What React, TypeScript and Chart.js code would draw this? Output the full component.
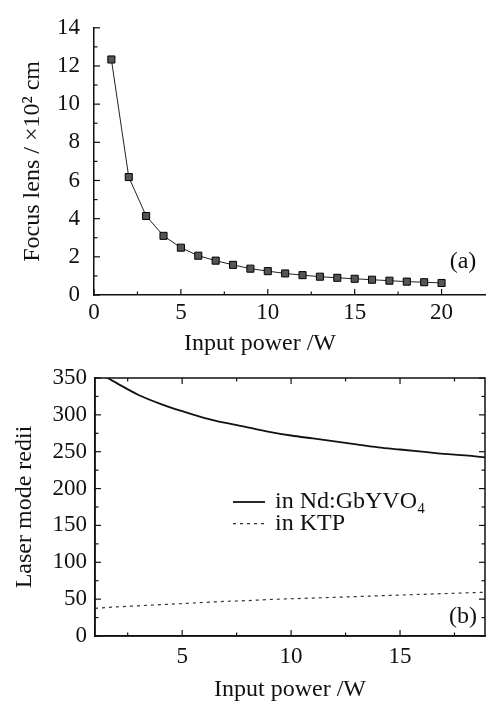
import React, { useEffect, useRef } from "react";
import { Chart, registerables } from "chart.js";

Chart.register(...registerables);

const SERIF = "'Liberation Serif', 'Times New Roman', serif";
const INK = "#111";

// ---- (a) Focus lens vs input power ----
const FOCUS_POWER = [1, 2, 3, 4, 5, 6, 7, 8, 9, 10, 11, 12, 13, 14, 15, 16, 17, 18, 19, 20];
const FOCUS_LENS = [12.34, 6.18, 4.14, 3.1, 2.48, 2.06, 1.8, 1.58, 1.38, 1.25, 1.13, 1.04, 0.96, 0.9, 0.85, 0.8, 0.75, 0.7, 0.67, 0.63];
const FOCUS_X_TICKS = [0, 5, 10, 15, 20];
const FOCUS_X_MINOR = [2.5, 7.5, 12.5, 17.5];
const FOCUS_Y_TICKS = [0, 2, 4, 6, 8, 10, 12, 14];
const FOCUS_Y_MINOR = [1, 3, 5, 7, 9, 11, 13];

// ---- (b) Laser mode radii vs input power ----
const MODE_POWER = [1, 2, 3, 4, 5, 6, 7, 8, 9, 10, 11, 12, 13, 14, 15, 16, 17, 18, 19];
const ND_RADII = [360, 343, 327, 315, 305, 296, 289, 283, 277, 272, 268, 264, 260, 256, 253, 250, 247, 245, 242];
const KTP_RADII = [37.5, 39.5, 41, 42.5, 44, 45.5, 47, 48, 49.5, 50.5, 51.5, 52.5, 53.5, 54.5, 55.5, 56.5, 57.5, 58.5, 59.5];
const MODE_X_TICKS = [5, 10, 15];
const MODE_X_MINOR = [2.5, 7.5, 12.5, 17.5];
const MODE_Y_TICKS = [0, 50, 100, 150, 200, 250, 300, 350];
const MODE_Y_MINOR = [25, 75, 125, 175, 225, 275, 325];
const SERIES_LABELS = ["in Nd:GbYVO\u2084", "in KTP"];

const inwardTicks = {
  id: "inwardTicks",
  afterDraw(chart: any, _args: any, opts: any) {
    const { ctx, chartArea: a, scales } = chart;
    const xs = scales.x;
    const ys = scales.y;
    const seg = (x1: number, y1: number, x2: number, y2: number) => {
      ctx.beginPath();
      ctx.moveTo(x1, y1);
      ctx.lineTo(x2, y2);
      ctx.stroke();
    };
    ctx.save();
    ctx.strokeStyle = INK;
    if (opts.frame) {
      ctx.lineWidth = 1.5;
      ctx.strokeRect(a.left, a.top, a.right - a.left, a.bottom - a.top);
    }
    ctx.lineWidth = 1.2;
    const groups: [number[], number, number[], number][] = [
      [opts.xMajor, 6, opts.yMajor, 6],
      [opts.xMinor, 3.5, opts.yMinor, 3.5],
    ];
    for (const [xv, xl, yv, yl] of groups) {
      for (const v of xv) {
        const px = xs.getPixelForValue(v);
        seg(px, a.bottom, px, a.bottom - xl);
        if (opts.frame) seg(px, a.top, px, a.top + xl);
      }
      for (const v of yv) {
        const py = ys.getPixelForValue(v);
        seg(a.left, py, a.left + yl, py);
        if (opts.frame) seg(a.right, py, a.right - yl, py);
      }
    }
    ctx.restore();
  },
};

const notes = {
  id: "notes",
  afterDraw(chart: any, _args: any, opts: any) {
    const { ctx } = chart;
    ctx.save();
    ctx.fillStyle = INK;
    ctx.font = `24px ${SERIF}`;
    ctx.textBaseline = "middle";
    for (const t of opts.texts || []) {
      ctx.textAlign = t.align || "center";
      ctx.fillText(t.text, t.x, t.y);
    }
    if (opts.legend) {
      const { x, y, gap, len } = opts.legend;
      chart.data.datasets.forEach((ds: any, i: number) => {
        const yy = y + i * gap;
        ctx.strokeStyle = ds.borderColor;
        ctx.lineWidth = ds.borderWidth;
        ctx.setLineDash(ds.borderDash || []);
        ctx.beginPath();
        ctx.moveTo(x, yy);
        ctx.lineTo(x + len, yy);
        ctx.stroke();
        ctx.setLineDash([]);
        ctx.textAlign = "left";
        ctx.fillText(ds.label, x + len + 10, yy);
      });
    }
    ctx.restore();
  },
};

function tickSetter(values: number[]) {
  return (scale: any) => {
    scale.ticks = values.map((v) => ({ value: v }));
  };
}

function axisBase(extra: any) {
  return {
    type: "linear",
    grid: { display: false, drawTicks: false },
    border: { display: true, color: INK, width: 1.5 },
    ...extra,
  };
}

export default function App() {
  const topRef = useRef<HTMLCanvasElement>(null);
  const botRef = useRef<HTMLCanvasElement>(null);

  useEffect(() => {
    const tickFont = { family: SERIF, size: 23 };
    const titleFont = { family: SERIF, size: 24 };

    const top = new Chart(topRef.current as HTMLCanvasElement, {
      type: "line",
      data: {
        datasets: [
          {
            label: "Focus lens",
            data: FOCUS_POWER.map((p, i) => ({ x: p, y: FOCUS_LENS[i] })),
            borderColor: "#222",
            borderWidth: 1,
            pointStyle: "rect",
            pointRadius: 5,
            pointBackgroundColor: "#555",
            pointBorderColor: "#000",
            pointBorderWidth: 1,
            tension: 0,
          },
        ],
      },
      options: {
        responsive: false,
        animation: false,
        events: [],
        layout: { padding: { top: 17, right: 4, left: 0, bottom: 0 } },
        plugins: {
          legend: { display: false },
          tooltip: { enabled: false },
          inwardTicks: { xMajor: FOCUS_X_TICKS, xMinor: FOCUS_X_MINOR, yMajor: FOCUS_Y_TICKS, yMinor: FOCUS_Y_MINOR, frame: false },
          notes: {
            texts: [
              { text: "(a)", x: 463, y: 262 },
              { text: "Input power /W", x: 260, y: 344 },
            ],
          },
        } as any,
        scales: {
          x: axisBase({
            min: 0,
            max: 22.5,
            afterBuildTicks: tickSetter(FOCUS_X_TICKS),
            afterFit: (s: any) => { s.height = 75; },
            ticks: { font: tickFont, color: INK, padding: 4, maxRotation: 0, autoSkip: false, callback: (v: any) => String(v) },
          }),
          y: axisBase({
            min: 0,
            max: 14,
            afterBuildTicks: tickSetter(FOCUS_Y_TICKS),
            afterFit: (s: any) => { s.width = 94; },
            ticks: { font: tickFont, color: INK, padding: 14, autoSkip: false, callback: (v: any) => String(v) },
            title: { display: true, text: "Focus lens / \u00d710\u00b2 cm", font: titleFont, color: INK, padding: { top: 18, bottom: 0 } },
          }),
        } as any,
      },
      plugins: [inwardTicks, notes],
    } as any);

    const bottom = new Chart(botRef.current as HTMLCanvasElement, {
      type: "line",
      data: {
        datasets: [
          {
            label: SERIES_LABELS[0],
            data: MODE_POWER.map((p, i) => ({ x: p, y: ND_RADII[i] })),
            borderColor: "#111",
            borderWidth: 1.8,
            pointRadius: 0,
            cubicInterpolationMode: "monotone",
          },
          {
            label: SERIES_LABELS[1],
            data: MODE_POWER.map((p, i) => ({ x: p, y: KTP_RADII[i] })),
            borderColor: "#333",
            borderWidth: 1.2,
            borderDash: [3, 4],
            pointRadius: 0,
            cubicInterpolationMode: "monotone",
          },
        ],
      },
      options: {
        responsive: false,
        animation: false,
        events: [],
        layout: { padding: { top: 38, right: 6, left: 0, bottom: 0 } },
        plugins: {
          legend: { display: false },
          tooltip: { enabled: false },
          inwardTicks: { xMajor: MODE_X_TICKS, xMinor: MODE_X_MINOR, yMajor: MODE_Y_TICKS, yMinor: MODE_Y_MINOR, frame: true },
          notes: {
            texts: [{ text: "(b)", x: 463, y: 277 }],
            legend: { x: 233, y: 162, gap: 21.6, len: 32 },
          },
        } as any,
        scales: {
          x: axisBase({
            min: 1,
            max: 18.9,
            afterBuildTicks: tickSetter(MODE_X_TICKS),
            afterFit: (s: any) => { s.height = 66; },
            ticks: { font: tickFont, color: INK, padding: 7, maxRotation: 0, autoSkip: false, callback: (v: any) => String(v) },
            title: { display: true, text: "Input power /W", font: titleFont, color: INK, padding: { top: 0, bottom: -2 } },
          }),
          y: axisBase({
            min: 0,
            max: 350,
            afterBuildTicks: tickSetter(MODE_Y_TICKS),
            afterFit: (s: any) => { s.width = 95; },
            ticks: { font: tickFont, color: INK, padding: 8, autoSkip: false, callback: (v: any) => String(v) },
            title: { display: true, text: "Laser mode redii", font: titleFont, color: INK, padding: { top: 10, bottom: 0 } },
          }),
        } as any,
      },
      plugins: [inwardTicks, notes],
    } as any);

    return () => {
      top.destroy();
      bottom.destroy();
    };
  }, []);

  return (
    <div style={{ position: "absolute", left: 0, top: 0, width: 491, height: 702, overflow: "hidden", background: "#fff" }}>
      <canvas ref={topRef} width={491} height={370} style={{ position: "absolute", left: 0, top: 0 }} />
      <canvas ref={botRef} width={491} height={362} style={{ position: "absolute", left: 0, top: 340 }} />
    </div>
  );
}
